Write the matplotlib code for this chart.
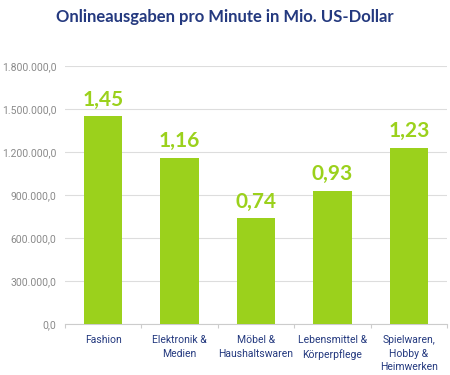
import matplotlib.pyplot as plt
import matplotlib
import numpy as np

matplotlib.rcParams['font.family'] = ['Roboto', 'DejaVu Sans']

categories = ['Fashion', 'Elektronik &\nMedien', 'Möbel &\nHaushaltswaren',
              'Lebensmittel &\nKörperpflege', 'Spielwaren,\nHobby &\nHeimwerken']
values = [1450000, 1160000, 740000, 930000, 1230000]
labels = ['1,45', '1,16', '0,74', '0,93', '1,23']
yticks = [0, 300000, 600000, 900000, 1200000, 1500000, 1800000]

green = '#9bd11c'
navy = '#24397f'

fig = plt.figure(figsize=(4.5, 3.75), dpi=100)
ax = fig.add_axes([0.144, 0.136, 0.85, 0.688])

x = np.arange(len(categories))
ax.bar(x, values, width=0.5, color=green, zorder=3)

for xi, v, lab in zip(x, values, labels):
    ax.text(xi, v + 45000, lab, ha='center', va='bottom', color=green,
            fontsize=15, fontweight='bold', family=['Lato', 'DejaVu Sans'])

ax.set_ylim(0, 1800000)
ax.set_xlim(-0.5, len(categories) - 0.5)
ax.set_yticks(yticks)
ax.set_yticklabels(['{:,.1f}'.format(t).replace(',', 'X').replace('.', ',').replace('X', '.') for t in yticks])
ax.tick_params(axis='y', length=0, labelsize=7.5, labelcolor='#8a8a8a', pad=6)
ax.grid(axis='y', color='#dddddd', linewidth=0.8, zorder=0)

# category ticks on the boundaries
ax.set_xticks(np.arange(len(categories) + 1) - 0.5, minor=False)
ax.set_xticklabels([])
ax.tick_params(axis='x', length=3, color='#cccccc', direction='out')
ax.set_xticks(x, minor=True)
ax.set_xticklabels(categories, minor=True, linespacing=1.45)
ax.tick_params(axis='x', which='minor', length=0, labelsize=7.5, labelcolor=navy, pad=8)

for s in ['top', 'right', 'left']:
    ax.spines[s].set_visible(False)
ax.spines['bottom'].set_color('#cccccc')

fig.text(0.5, 0.955, 'Onlineausgaben pro Minute in Mio. US-Dollar', ha='center',
         va='center', fontsize=12, fontweight='bold', color=navy,
         family=['Lato', 'DejaVu Sans'])

fig.savefig('out.png', dpi=100)
